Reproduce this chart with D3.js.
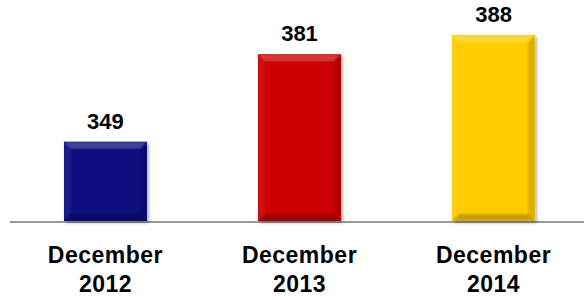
<!DOCTYPE html>
<meta charset="utf-8">
<style>
body { margin: 0; background: #fff; }
text { font-family: Arial, "Liberation Sans", sans-serif; font-weight: bold; fill: #000; }
</style>
<body>
<script src="https://d3js.org/d3.v7.min.js"></script>
<script>

// data
var categories = ["December 2012", "December 2013", "December 2014"];
var values = [349, 381, 388];
var colors = ["#0c0c80", "#cc0505", "#ffcc00"];

var width = 584, height = 300;
var baseY = 221;

var svg = d3.select("body").append("svg")
    .attr("width", width)
    .attr("height", height);

// drop shadow + soft bevel
var defs = svg.append("defs");
var f = defs.append("filter").attr("id", "shadow")
    .attr("x", "-10%").attr("y", "-10%").attr("width", "130%").attr("height", "130%");
f.append("feDropShadow").attr("dx", 2).attr("dy", 2).attr("stdDeviation", 1.5)
    .attr("flood-color", "#000").attr("flood-opacity", 0.3);
var blur = defs.append("filter").attr("id", "soft");
blur.append("feGaussianBlur").attr("stdDeviation", 1.2);

// scales
var x = d3.scaleBand()
    .domain(categories)
    .range([10, 589])
    .paddingInner(0.572)
    .paddingOuter(0.278);

var y = d3.scaleLinear()
    .domain([320, 388])
    .range([baseY, 35]);

// axis line
svg.append("line")
    .attr("x1", 10).attr("x2", width)
    .attr("y1", baseY + 1).attr("y2", baseY + 1)
    .attr("stroke", "#999").attr("stroke-width", 2);

var bw = x.bandwidth();
var bev = 7;

var bars = svg.selectAll(".bar")
    .data(categories)
    .enter().append("g")
    .attr("class", "bar");

bars.append("clipPath")
    .attr("id", function(d, i) { return "clip" + i; })
    .append("rect")
    .attr("x", function(d) { return x(d); })
    .attr("y", function(d, i) { return y(values[i]); })
    .attr("width", bw)
    .attr("height", function(d, i) { return baseY - y(values[i]); });

bars.append("rect")
    .attr("x", function(d) { return x(d); })
    .attr("y", function(d, i) { return y(values[i]); })
    .attr("width", bw)
    .attr("height", function(d, i) { return baseY - y(values[i]); })
    .attr("fill", function(d, i) { return colors[i]; })
    .attr("filter", "url(#shadow)");

// bevel faces
function face(d, i, side) {
    var x0 = x(d), x1 = x(d) + bw, y0 = y(values[i]), y1 = baseY;
    var pts;
    if (side == "top") pts = [[x0, y0], [x1, y0], [x1 - bev, y0 + bev], [x0 + bev, y0 + bev]];
    if (side == "left") pts = [[x0, y0], [x0 + bev, y0 + bev], [x0 + bev, y1 - bev], [x0, y1]];
    if (side == "right") pts = [[x1, y0], [x1 - bev, y0 + bev], [x1 - bev, y1 - bev], [x1, y1]];
    if (side == "bottom") pts = [[x0, y1], [x0 + bev, y1 - bev], [x1 - bev, y1 - bev], [x1, y1]];
    return "M" + pts.join("L") + "Z";
}
var faces = [
    {side: "top", fill: "#fff", op: 0.22},
    {side: "left", fill: "#fff", op: 0.06},
    {side: "right", fill: "#000", op: 0.14},
    {side: "bottom", fill: "#000", op: 0.22}
];
faces.forEach(function(fc) {
    bars.append("g")
        .attr("clip-path", function(d, i) { return "url(#clip" + i + ")"; })
        .append("path")
        .attr("d", function(d, i) { return face(d, i, fc.side); })
        .attr("fill", fc.fill)
        .attr("fill-opacity", fc.op)
        .attr("filter", "url(#soft)");
});

// value labels
bars.append("text")
    .attr("x", function(d) { return x(d) + bw / 2; })
    .attr("y", function(d, i) { return y(values[i]) - 13; })
    .attr("text-anchor", "middle")
    .style("font-size", "22px")
    .text(function(d, i) { return values[i]; });

// category labels, two lines
var lab = svg.selectAll(".cat")
    .data(categories)
    .enter().append("text")
    .attr("class", "cat")
    .attr("text-anchor", "middle")
    .style("font-size", "23px")
    .style("letter-spacing", "0.5px");
lab.append("tspan")
    .attr("x", function(d) { return x(d) + bw / 2; })
    .attr("y", 263)
    .text(function(d) { return d.split(" ")[0]; });
lab.append("tspan")
    .attr("x", function(d) { return x(d) + bw / 2; })
    .attr("y", 292)
    .text(function(d) { return d.split(" ")[1]; });

</script>
</body>
